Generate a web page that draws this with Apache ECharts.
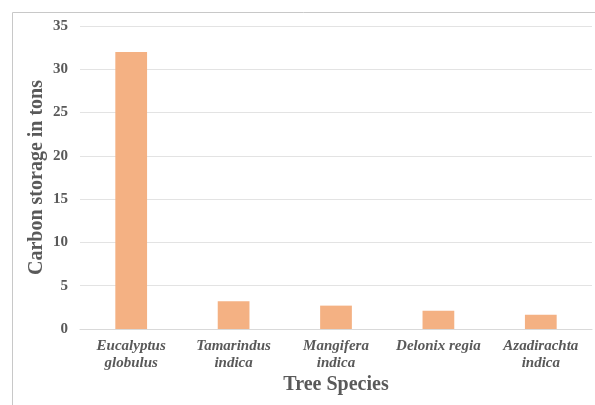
<!DOCTYPE html>
<html><head><meta charset="utf-8">
<script src="https://cdn.jsdelivr.net/npm/echarts@6/dist/echarts.min.js"></script>
<style>html,body{margin:0;padding:0;background:#fff}#c{width:595px;height:405px}</style>
</head><body><div id="c"></div>
<script>
const categories = ["Eucalyptus\nglobulus", "Tamarindus\nindica", "Mangifera\nindica", "Delonix regia", "Azadirachta\nindica"];
const carbonTons = [32.0, 3.2, 2.7, 2.1, 1.65];
const yTicks = [0, 5, 10, 15, 20, 25, 30, 35];

const chart = echarts.init(document.getElementById('c'));
const serif = 'Liberation Serif';
chart.setOption({
  animation: false,
  graphic: [
    {type: 'line', shape: {x1: 12.5, y1: 12.5, x2: 595, y2: 12.5}, style: {stroke: '#c8c8c8', lineWidth: 1}},
    {type: 'line', shape: {x1: 12.5, y1: 12.5, x2: 12.5, y2: 405}, style: {stroke: '#c8c8c8', lineWidth: 1}}
  ],
  grid: {left: 80, right: 3, top: 26, bottom: 76, containLabel: false},
  xAxis: {
    type: 'category',
    data: categories,
    name: 'Tree Species',
    nameLocation: 'middle',
    nameGap: 46,
    nameMoveOverlap: false,
    nameTextStyle: {fontFamily: serif, fontWeight: 'bold', fontSize: 20, color: '#595959'},
    axisLine: {lineStyle: {color: '#d9d9d9'}},
    axisTick: {show: false},
    axisLabel: {fontFamily: serif, fontWeight: 'bold', fontStyle: 'italic', fontSize: 15, color: '#595959', lineHeight: 17, margin: 9, interval: 0}
  },
  yAxis: {
    type: 'value',
    min: 0, max: 35, interval: 5,
    name: 'Carbon storage in tons',
    nameLocation: 'middle',
    nameGap: 33,
    nameMoveOverlap: false,
    nameTextStyle: {fontFamily: serif, fontWeight: 'bold', fontSize: 20, color: '#595959'},
    axisLine: {show: false},
    axisTick: {show: false},
    splitLine: {lineStyle: {color: '#e3e3e3'}},
    axisLabel: {fontFamily: serif, fontWeight: 'bold', fontSize: 15, color: '#595959', margin: 12,
      formatter: v => yTicks.includes(v) ? String(v) : ''}
  },
  series: [{
    type: 'bar',
    data: carbonTons,
    barWidth: '31%',
    itemStyle: {color: '#F4B183'}
  }]
});
</script></body></html>
